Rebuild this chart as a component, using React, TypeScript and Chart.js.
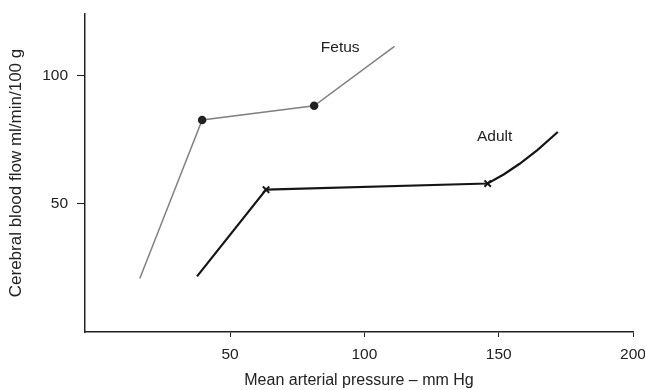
import React, { useEffect, useRef } from "react";
import { Chart, registerables } from "chart.js";
Chart.register(...registerables);

const fetusX = [16.4, 39.6, 81.3, 111.2];
const fetusY = [20.9, 82.7, 88.2, 111.4];
const fetusMarkers = [0, 3.5, 3.5, 0];

const adultX = [37.7, 63.4, 145.9, 152, 157.8, 164.5, 172];
const adultY = [21.7, 55.5, 57.9, 61.5, 65.6, 71, 78];
const adultMarkers = [0, 4.5, 4.5, 0, 0, 0, 0];

const xTicks = [50, 100, 150, 200];
const yTicks = [50, 100];

const seriesLabels = [
  { text: "Fetus", x: 91, y: 111 },
  { text: "Adult", x: 148.5, y: 76 },
];

const FONT = "'Liberation Sans', Arial, sans-serif";
const FS = 15.5;

const labelPlugin = {
  id: "seriesLabels",
  afterDatasetsDraw(chart: any) {
    const { ctx, scales } = chart;
    ctx.save();
    ctx.fillStyle = "#222";
    ctx.font = `${FS}px ${FONT}`;
    ctx.textAlign = "center";
    ctx.textBaseline = "middle";
    for (const l of seriesLabels) {
      ctx.fillText(l.text, scales.x.getPixelForValue(l.x), scales.y.getPixelForValue(l.y));
    }
    ctx.restore();
  },
};

export default function App() {
  const ref = useRef<HTMLCanvasElement>(null);
  useEffect(() => {
    if (!ref.current) return;
    const chart = new Chart(ref.current, {
      type: "line",
      data: {
        datasets: [
          {
            label: "Fetus",
            data: fetusX.map((x, i) => ({ x, y: fetusY[i] })),
            borderColor: "#808080",
            borderWidth: 1.5,
            pointRadius: fetusMarkers,
            pointBackgroundColor: "#222",
            pointBorderColor: "#222",
            pointStyle: "circle",
            tension: 0,
          },
          {
            label: "Adult",
            data: adultX.map((x, i) => ({ x, y: adultY[i] })),
            borderColor: "#151515",
            borderWidth: 2.2,
            pointRadius: adultMarkers,
            pointBorderColor: "#151515",
            pointBorderWidth: 2,
            pointStyle: "crossRot",
            tension: 0,
          },
        ],
      },
      options: {
        animation: false,
        responsive: false,
        layout: { padding: { top: 14, right: 12, left: 0, bottom: 0 } },
        plugins: { legend: { display: false }, tooltip: { enabled: false } },
        scales: {
          x: {
            type: "linear",
            min: -4,
            max: 200,
            afterBuildTicks: (s: any) => {
              s.ticks = xTicks.map((v) => ({ value: v }));
            },
            afterFit: (s: any) => {
              s.height = 58;
              s.paddingLeft = 0;
              s.paddingRight = 0;
            },
            grid: { drawOnChartArea: false, drawTicks: true, tickLength: 5, color: "#222" },
            border: { display: true, color: "#222", width: 1.5 },
            ticks: { color: "#222", font: { family: FONT, size: FS }, padding: 8, maxRotation: 0 },
            title: {
              display: true,
              text: "Mean arterial pressure – mm Hg",
              color: "#222",
              font: { family: FONT, size: 16 },
              padding: { top: 3, bottom: 0 },
            },
          },
          y: {
            type: "linear",
            min: 0,
            max: 124,
            afterBuildTicks: (s: any) => {
              s.ticks = yTicks.map((v) => ({ value: v }));
            },
            afterFit: (s: any) => {
              s.width = 85;
              s.paddingTop = 0;
              s.paddingBottom = 0;
            },
            grid: { drawOnChartArea: false, drawTicks: true, tickLength: 8, color: "#222" },
            border: { display: true, color: "#222", width: 1.5 },
            ticks: { color: "#222", font: { family: FONT, size: FS }, padding: 9 },
            title: {
              display: true,
              text: "Cerebral blood flow ml/min/100 g",
              color: "#222",
              font: { family: FONT, size: 17 },
              padding: { top: 6, bottom: 0 },
            },
          },
        },
      },
      plugins: [labelPlugin],
    } as any);
    return () => chart.destroy();
  }, []);
  return (
    <div style={{ position: "fixed", left: 0, top: 0, width: 645, height: 390, background: "#fff" }}>
      <canvas ref={ref} width={645} height={390} style={{ display: "block" }} />
    </div>
  );
}
